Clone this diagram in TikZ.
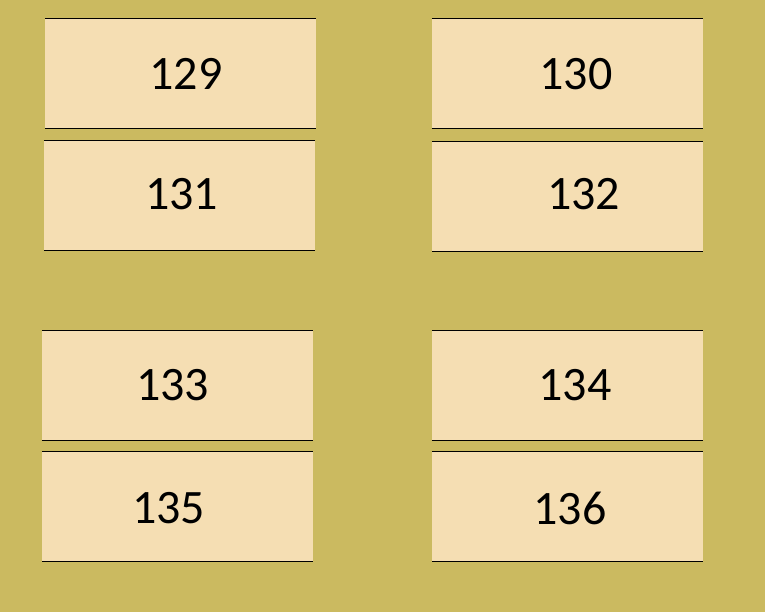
\documentclass[tikz,border=0pt]{standalone}
\usepackage{fontspec}
\setmainfont{Carlito}
\definecolor{olive}{HTML}{CBBA60}
\definecolor{wheatcell}{HTML}{F5DEB3}
\tikzset{
	cell/.style={rectangle,fill=wheatcell,inner sep=0pt,minimum width=271pt,minimum height=109pt},
	rule/.style={black,line width=0.9pt},
	num/.style={inner sep=0pt,font=\fontsize{48}{52}\selectfont}
}
\begin{document}
\begin{tikzpicture}[x=1pt,y=-1pt]
	\fill[olive] (0,0) rectangle (765,612); % background
	\useasboundingbox (0,0) rectangle (765,612);
	\foreach \n/\x/\y/\tx/\ty in {129/180.5/73.5/186/73.5,130/567.5/73.5/576/74,
		131/179.5/195.5/181.5/194,132/567.5/196.5/583.5/194.5,
		133/177.5/385.5/172.5/385,134/567.5/385.5/575/385,
		135/177.5/506.5/168.5/508.5,136/567.5/506.5/570/508.5}{% one cell per number
		\node[cell] (c\n) at (\x,\y) {};
		\draw[rule] (c\n.north west) -- (c\n.north east);
		\draw[rule] (c\n.south west) -- (c\n.south east);
		\node[num] (t\n) at (\tx,\ty) {\n};
	}
\end{tikzpicture}
\end{document}
